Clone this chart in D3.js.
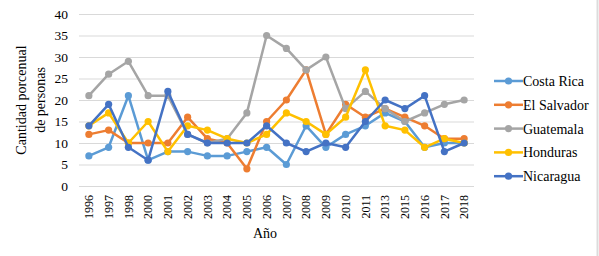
<!DOCTYPE html>
<html>
<head>
<meta charset="utf-8">
<script src="https://cdn.jsdelivr.net/npm/d3@7"></script>
<style>
  body { margin: 0; background: #fff; }
  text { font-family: "Liberation Serif", "DejaVu Serif", serif; fill: #000; }
</style>
</head>
<body>
<div id="chart"></div>
<script>
// years on the x axis (1999, 2012, 2014 are missing in the source)
var years = ["1996","1997","1998","2000","2001","2002","2003","2004","2005","2006",
             "2007","2008","2009","2010","2011","2013","2015","2016","2017","2018"];

var costaRica  = [7, 9, 21, 6, 8, 8, 7, 7, 8, 9, 5, 14, 9, 12, 14, 17, 15, 9, 10, 10];
var elSalvador = [12, 13, 10, 10, 10, 16, 11, 10, 4, 15, 20, 27, 12, 19, 16, 18, 16, 14, 11, 11];
var guatemala  = [21, 26, 29, 21, 21, 12, 10, 11, 17, 35, 32, 27, 30, 18, 22, 18, 15, 17, 19, 20];
var honduras   = [14, 17, 10, 15, 8, 14, 13, 11, 10, 12, 17, 15, 12, 16, 27, 14, 13, 9, 11, 10];
var nicaragua  = [14, 19, 9, 6, 22, 12, 10, 10, 10, 14, 10, 8, 10, 9, 15, 20, 18, 21, 8, 10];

var seriesNames = ["Costa Rica", "El Salvador", "Guatemala", "Honduras", "Nicaragua"];
var yTicks = [0, 5, 10, 15, 20, 25, 30, 35, 40];

var series = [
    {name: seriesNames[0], values: costaRica,  color: "#5B9BD5"},
    {name: seriesNames[1], values: elSalvador, color: "#ED7D31"},
    {name: seriesNames[2], values: guatemala,  color: "#A5A5A5"},
    {name: seriesNames[3], values: honduras,   color: "#FFC000"},
    {name: seriesNames[4], values: nicaragua,  color: "#4472C4"}
];

var dimensions = {
    width: 599,
    height: 256,
    margin: {top: 14, bottom: 70, left: 79, right: 125}
};

var svg = d3.select("#chart").append("svg")
    .attr("width", dimensions.width)
    .attr("height", dimensions.height);

// right frame edge
svg.append("line")
    .attr("x1", 597.5).attr("x2", 597.5)
    .attr("y1", 0).attr("y2", dimensions.height)
    .attr("stroke", "#dcdcdc")
    .attr("stroke-width", 2);

var x = d3.scaleBand()
    .domain(years)
    .range([dimensions.margin.left, dimensions.width - dimensions.margin.right]);

var y = d3.scaleLinear()
    .domain([0, 40])
    .range([dimensions.height - dimensions.margin.bottom, dimensions.margin.top]);

// gridlines
svg.append("g")
    .selectAll("line")
    .data(yTicks)
    .enter().append("line")
    .attr("x1", x.range()[0])
    .attr("x2", x.range()[1])
    .attr("y1", d => y(d) + 0.5)
    .attr("y2", d => y(d) + 0.5)
    .attr("stroke", "#d9d9d9")
    .attr("stroke-width", 1);

// y axis labels
var yAxis = d3.axisLeft(y).tickValues(yTicks).tickSize(0).tickPadding(11);
svg.append("g")
    .attr("transform", `translate(${dimensions.margin.left}, 0)`)
    .call(yAxis)
    .call(g => g.select(".domain").remove())
    .selectAll("text")
    .style("font-family", "Liberation Serif")
    .style("font-size", "13.5px");

// x axis labels, rotated
var xAxis = d3.axisBottom(x).tickSize(0).tickPadding(0);
svg.append("g")
    .attr("transform", `translate(0, ${y(0)})`)
    .call(xAxis)
    .call(g => g.select(".domain").remove())
    .selectAll("text")
    .style("font-family", "Liberation Serif")
    .style("font-size", "12px")
    .attr("text-anchor", "end")
    .attr("transform", "rotate(-90)")
    .attr("x", -9)
    .attr("y", 0)
    .attr("dy", "0.35em");

// axis titles
svg.append("text")
    .attr("transform", "translate(26, 100) rotate(-90)")
    .attr("text-anchor", "middle")
    .style("font-size", "14px")
    .text("Cantidad porcenual");
svg.append("text")
    .attr("transform", "translate(45, 100) rotate(-90)")
    .attr("text-anchor", "middle")
    .style("font-size", "14px")
    .text("de personas");

svg.append("text")
    .attr("x", 265)
    .attr("y", 238)
    .attr("text-anchor", "middle")
    .style("font-size", "14px")
    .text("Año");

var line = d3.line()
    .x((d, i) => x(years[i]) + x.bandwidth() / 2)
    .y(d => y(d));

series.forEach(s => {
    var g = svg.append("g");
    g.append("path")
        .datum(s.values)
        .attr("d", line)
        .attr("fill", "none")
        .attr("stroke", s.color)
        .attr("stroke-width", 2.5)
        .attr("stroke-linejoin", "round");
    g.selectAll("circle")
        .data(s.values)
        .enter().append("circle")
        .attr("cx", (d, i) => x(years[i]) + x.bandwidth() / 2)
        .attr("cy", d => y(d))
        .attr("r", 3.6)
        .attr("fill", s.color);
});

// legend
var legend = svg.append("g");
series.forEach((s, i) => {
    var ly = 81 + i * 23.8;
    legend.append("line")
        .attr("x1", 494).attr("x2", 523)
        .attr("y1", ly).attr("y2", ly)
        .attr("stroke", s.color)
        .attr("stroke-width", 2.5);
    legend.append("circle")
        .attr("cx", 508.5).attr("cy", ly)
        .attr("r", 3.6)
        .attr("fill", s.color);
    legend.append("text")
        .attr("x", 523)
        .attr("y", ly)
        .attr("dy", "0.35em")
        .style("font-size", "14px")
        .text(s.name);
});
</script>
</body>
</html>
